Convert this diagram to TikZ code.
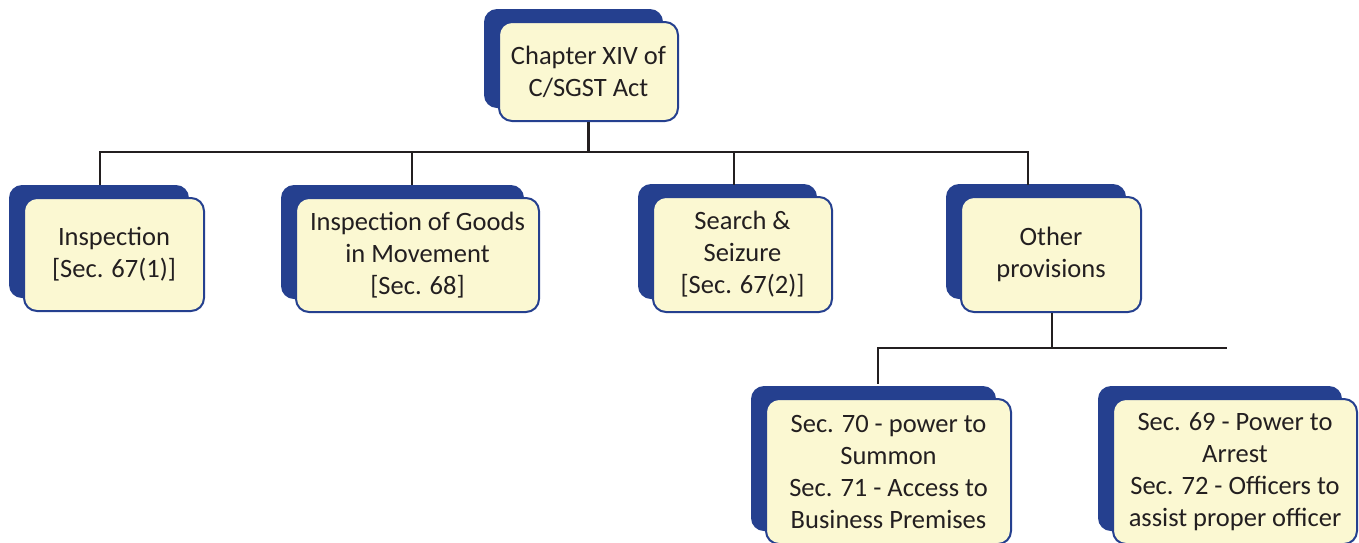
\documentclass[tikz,border=0pt]{standalone}
\usepackage{fontspec}
\setmainfont{Carlito}
\usetikzlibrary{shadows}
\definecolor{boxblue}{RGB}{37,64,143}
\definecolor{boxfill}{RGB}{251,248,210}
\definecolor{txt}{RGB}{35,31,32}
\tikzset{
  box/.style={draw=boxblue, line width=2pt, fill=boxfill, rounded corners=13pt,
    align=center, text=txt, inner sep=0pt,
    font=\fontsize{26.5}{32}\selectfont,
    general shadow={fill=boxblue, shadow xshift=-15pt, shadow yshift=13pt}},
  conn/.style={draw=txt, line width=2.8pt}
}
\begin{document}
\begin{tikzpicture}[x=1pt,y=-1pt]
\useasboundingbox (0,0) rectangle (1359,542);
\clip (0,0) rectangle (1359,542);
\node[box, minimum width=179pt, minimum height=99pt] (top) at (588.5,71.5) {Chapter XIV of\\C/SGST Act};
\node[box, minimum width=180pt, minimum height=113pt] (b1) at (114,254.5) {Inspection\\{}[Sec. 67(1)]};
\node[box, minimum width=243pt, minimum height=114pt] (b2) at (417.5,255) {Inspection of Goods\\in Movement\\{}[Sec. 68]};
\node[box, minimum width=179pt, minimum height=115pt] (b3) at (742.5,254.5) {Search \&\\Seizure\\{}[Sec. 67(2)]};
\node[box, minimum width=180pt, minimum height=115pt] (b4) at (1051,254.5) {Other\\provisions};
\node[box, minimum width=245pt, minimum height=145pt] (b5) at (888.5,471.5) {Sec. 70 - power to\\Summon\\Sec. 71 - Access to\\Business Premises};
\node[box, minimum width=244pt, minimum height=145pt] (b6) at (1235,471.5) {Sec. 69 - Power to\\Arrest\\Sec. 72 - Officers to\\assist proper officer};
% tops of the blue backs, where connectors land
\coordinate (b1top) at (100,185);
\coordinate (b2top) at (412,185);
\coordinate (b3top) at (734,185);
\coordinate (b4top) at (1028,185);
\coordinate (b5top) at (878,384);
\coordinate (bus1) at (588.5,152);
\coordinate (bus2) at (1052,348);
\coordinate (dangle) at (1227,348);
\draw[conn] (top.south) -- (bus1);
\draw[conn] (bus1) -| (b1top);
\draw[conn] (bus1) -| (b2top);
\draw[conn] (bus1) -| (b3top);
\draw[conn] (bus1) -| (b4top);
\draw[conn] (b4.south -| bus2) -- (bus2);
\draw[conn] (bus2) -| (b5top);
\draw[conn] (bus2) -- (dangle);
\end{tikzpicture}
\end{document}
